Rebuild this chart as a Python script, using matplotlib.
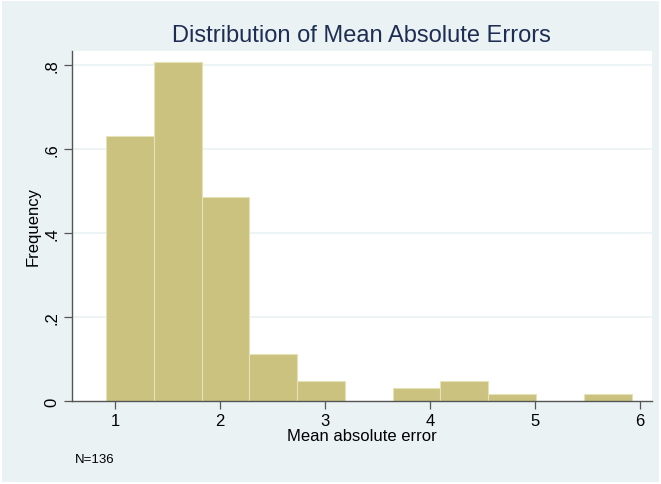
import matplotlib.pyplot as plt
from matplotlib.patches import Rectangle

plt.rcParams['font.family'] = ['Liberation Sans', 'DejaVu Sans']

# histogram: 11 bins, density heights
bin_start = 0.914
bin_width = 0.455
heights = [0.630, 0.808, 0.485, 0.113, 0.048, 0.0, 0.032, 0.048, 0.016, 0.0, 0.016]
x_ticks = [1, 2, 3, 4, 5, 6]
y_ticks = [0, 0.2, 0.4, 0.6, 0.8]
y_tick_labels = ["0", ".2", ".4", ".6", ".8"]
n_obs = 136

bg = "#EAF2F3"
bar_color = "#CAC27E"
bar_edge = "#E6E2B8"
axis_color = "#555555"

fig = plt.figure(figsize=(6.61, 4.85), dpi=100)
fig.patch.set_facecolor("white")
fig.patches.append(Rectangle((2 / 661, 2 / 485), 657 / 661, 481 / 485,
                             transform=fig.transFigure, facecolor=bg,
                             edgecolor="none", zorder=-10))

ax = fig.add_axes([72 / 661, 83 / 485, 579.7 / 661, 350 / 485])
ax.set_facecolor("white")

lefts = [bin_start + i * bin_width for i in range(len(heights))]
ax.bar(lefts, heights, width=bin_width, align="edge", color=bar_color,
       edgecolor=bar_edge, linewidth=0.8, zorder=2)

ax.set_xlim(0.59, 6.111)
ax.set_ylim(0, 0.833)

ax.set_xticks(x_ticks)
ax.set_yticks(y_ticks)
ax.set_yticklabels(y_tick_labels, rotation=90, va="center")
for y in y_ticks[1:]:
    ax.axhline(y, color=bg, linewidth=1.2, zorder=1)

for side in ["top", "right"]:
    ax.spines[side].set_visible(False)
for side in ["left", "bottom"]:
    ax.spines[side].set_color(axis_color)
    ax.spines[side].set_linewidth(1.0)
ax.tick_params(axis="both", direction="out", length=6, width=0.9,
               color=axis_color, labelsize=12, labelcolor="black", pad=3)

ax.set_xlabel("Mean absolute error", fontsize=12, labelpad=0)
ax.set_ylabel("Frequency", fontsize=12, labelpad=3)

fig.text(0.5 * (72 + 651.7) / 661, 1 - 36 / 485, "Distribution of Mean Absolute Errors",
         ha="center", va="center", fontsize=17, color="#1E2D53")
fig.text(75 / 661, 1 - 460 / 485, "N={}".format(n_obs), ha="left", va="center",
         fontsize=9.5, color="black")

fig.savefig("out.png", dpi=100, facecolor=fig.get_facecolor())
